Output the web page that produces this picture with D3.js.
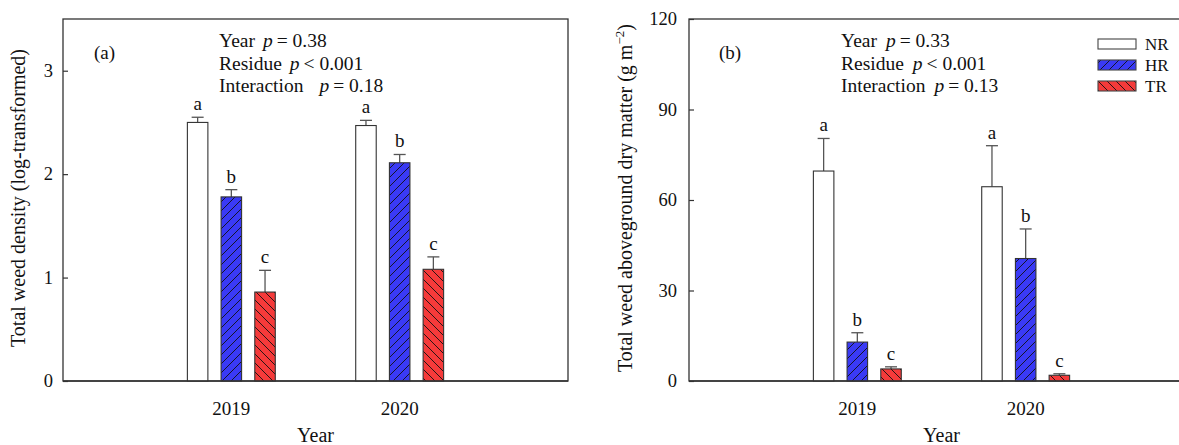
<!DOCTYPE html>
<html><head><meta charset="utf-8">
<script src="https://cdn.jsdelivr.net/npm/d3@7/dist/d3.min.js"></script>
<style>
html,body{margin:0;padding:0;background:#fff;}
svg{display:block;font-family:"Liberation Serif","Times New Roman",serif;}
</style></head>
<body>
<svg id="chart" width="1179" height="445"></svg>
<script>
// ---- data ----
const years = ["2019", "2020"];
const series = ["NR", "HR", "TR"];
// panel (a): total weed density (log-transformed)
const densityMean = { NR: [2.50, 2.47], HR: [1.78, 2.11], TR: [0.86, 1.08] };
const densityErr  = { NR: [0.05, 0.05], HR: [0.07, 0.08], TR: [0.21, 0.12] };
const densityLetters = { NR: ["a", "a"], HR: ["b", "b"], TR: ["c", "c"] };
const densityTicks = [0, 1, 2, 3];
// panel (b): total weed aboveground dry matter (g m-2)
const dryMean = { NR: [69.6, 64.4], HR: [12.9, 40.6], TR: [4.0, 1.9] };
const dryErr  = { NR: [10.8, 13.6], HR: [3.1, 9.8], TR: [0.7, 0.5] };
const dryLetters = { NR: ["a", "a"], HR: ["b", "b"], TR: ["c", "c"] };
const dryTicks = [0, 30, 60, 90, 120];
const statsA = [["Year", "= 0.38"], ["Residue", "< 0.001"], ["Interaction", "= 0.18"]];
const statsB = [["Year", "= 0.33"], ["Residue", "< 0.001"], ["Interaction", "= 0.13"]];

const fills = { NR: "#ffffff", HR: "#3a3af5", TR: "#f53a3a" };
const hatch = { NR: null, HR: "hatchHR", TR: "hatchTR" };

const svg = d3.select("#chart");
const defs = svg.append("defs");
function makeHatch(id, color, dir) {
  const s = 9;
  const p = defs.append("pattern").attr("id", id).attr("patternUnits", "userSpaceOnUse")
    .attr("width", s).attr("height", s);
  p.append("rect").attr("width", s).attr("height", s).attr("fill", color);
  const d = dir > 0
    ? `M0,${s} L${s},0 M${-s/2},${s/2} L${s/2},${-s/2} M${s/2},${s*1.5} L${s*1.5},${s/2}`
    : `M0,0 L${s},${s} M${-s/2},${s/2} L${s/2},${s*1.5} M${s/2},${-s/2} L${s*1.5},${s/2}`;
  p.append("path").attr("d", d).attr("stroke", "#111").attr("stroke-width", 0.9).attr("fill", "none");
}
makeHatch("hatchHR", fills.HR, 1);
makeHatch("hatchTR", fills.TR, -1);
const fillOf = s => hatch[s] ? `url(#${hatch[s]})` : fills[s];

const plotTop = 19, plotBottom = 381, axisColor = "#333";

function panel(opt) {
  const g = svg.append("g");
  const x = d3.scaleLinear().domain([0, 3]).range([opt.left, opt.right]);
  const y = d3.scaleLinear().domain([0, opt.ymax]).range([plotBottom, plotTop]);
  const inner = d3.scalePoint().domain(series).range([-33.7, 33.7]);
  const bw = 20.5;

  g.append("rect").attr("x", opt.left).attr("y", plotTop)
    .attr("width", opt.right - opt.left).attr("height", plotBottom - plotTop)
    .attr("fill", "none").attr("stroke", axisColor).attr("stroke-width", 1.3);

  const ya = d3.axisRight(y).tickValues(opt.ticks).tickSize(5).tickFormat("");
  const yg = g.append("g").attr("transform", `translate(${opt.left},0)`).call(ya);
  yg.select(".domain").remove();
  yg.selectAll(".tick line").attr("stroke", axisColor).attr("stroke-width", 1.2);
  g.selectAll(".ylab").data(opt.ticks).enter().append("text")
    .attr("x", opt.left - opt.labGap).attr("y", d => y(d) + 6)
    .attr("text-anchor", "end").attr("font-size", 18.5).attr("fill", "#111").text(d => d);

  g.selectAll(".xlab").data(years).enter().append("text")
    .attr("x", (d, i) => x(i + 1)).attr("y", 415)
    .attr("text-anchor", "middle").attr("font-size", 19).attr("fill", "#111").text(d => d);
  g.append("text").attr("x", (opt.left + opt.right) / 2).attr("y", 442)
    .attr("text-anchor", "middle").attr("font-size", 20).attr("fill", "#111").text("Year");

  series.forEach(s => {
    years.forEach((yr, i) => {
      const cx = x(i + 1) + inner(s);
      const v = opt.mean[s][i], e = opt.err[s][i];
      g.append("line").attr("x1", cx).attr("x2", cx).attr("y1", y(v)).attr("y2", y(v + e))
        .attr("stroke", "#555").attr("stroke-width", 1.3);
      g.append("line").attr("x1", cx - 6).attr("x2", cx + 6).attr("y1", y(v + e)).attr("y2", y(v + e))
        .attr("stroke", "#555").attr("stroke-width", 1.3);
      g.append("rect").attr("x", cx - bw / 2).attr("y", y(v)).attr("width", bw)
        .attr("height", y(0) - y(v)).attr("fill", fillOf(s))
        .attr("stroke", "#333").attr("stroke-width", 1.1);
      g.append("text").attr("x", cx).attr("y", y(v + e) - 7).attr("text-anchor", "middle")
        .attr("font-size", 19).attr("fill", "#111").text(opt.letters[s][i]);
    });
  });
  g.append("line").attr("x1", opt.left).attr("x2", opt.right).attr("y1", plotBottom).attr("y2", plotBottom)
    .attr("stroke", axisColor).attr("stroke-width", 1.3);

  g.append("text").attr("x", opt.tagX).attr("y", 59).attr("font-size", 19).attr("fill", "#111").text(opt.tag);

  opt.stats.forEach((r, k) => {
    const t = g.append("text").attr("x", opt.statX).attr("y", 47 + k * 22.5)
      .attr("font-size", 19.5).attr("fill", "#111");
    t.append("tspan").text(r[0]);
    t.append("tspan").attr("dx", opt.pGap[k]).attr("font-style", "italic").text("p");
    t.append("tspan").attr("dx", 4).text(r[1]);
  });

  const yt = g.append("text").attr("transform", `translate(${opt.titleX},${198}) rotate(-90)`)
    .attr("text-anchor", "middle").attr("font-size", 20).attr("fill", "#111");
  opt.title(yt);
  return { x, y };
}

panel({
  left: 63, right: 568, ymax: 3.5, ticks: densityTicks, labGap: 10,
  mean: densityMean, err: densityErr, letters: densityLetters,
  tag: "(a)", tagX: 94, stats: statsA, statX: 219, titleX: 25, pGap: [8, 8, 16],
  title: t => t.text("Total weed density (log-transformed)")
});
panel({
  left: 689, right: 1194, ymax: 120, ticks: dryTicks, labGap: 12,
  mean: dryMean, err: dryErr, letters: dryLetters,
  tag: "(b)", tagX: 719, stats: statsB, statX: 841, titleX: 632, pGap: [9, 9, 9],
  title: t => {
    t.append("tspan").text("Total weed aboveground dry matter (g m");
    t.append("tspan").attr("dy", -8).attr("font-size", 13).text("−2");
    t.append("tspan").attr("dy", 8).text(")");
  }
});

const lg = svg.append("g");
series.forEach((s, i) => {
  const yy = 39 + i * 21;
  lg.append("rect").attr("x", 1098).attr("y", yy).attr("width", 38).attr("height", 10)
    .attr("fill", fillOf(s)).attr("stroke", "#444").attr("stroke-width", 1.1);
  lg.append("text").attr("x", 1145).attr("y", yy + 11).attr("font-size", 17).attr("fill", "#111").text(s);
});
</script>
</body></html>
